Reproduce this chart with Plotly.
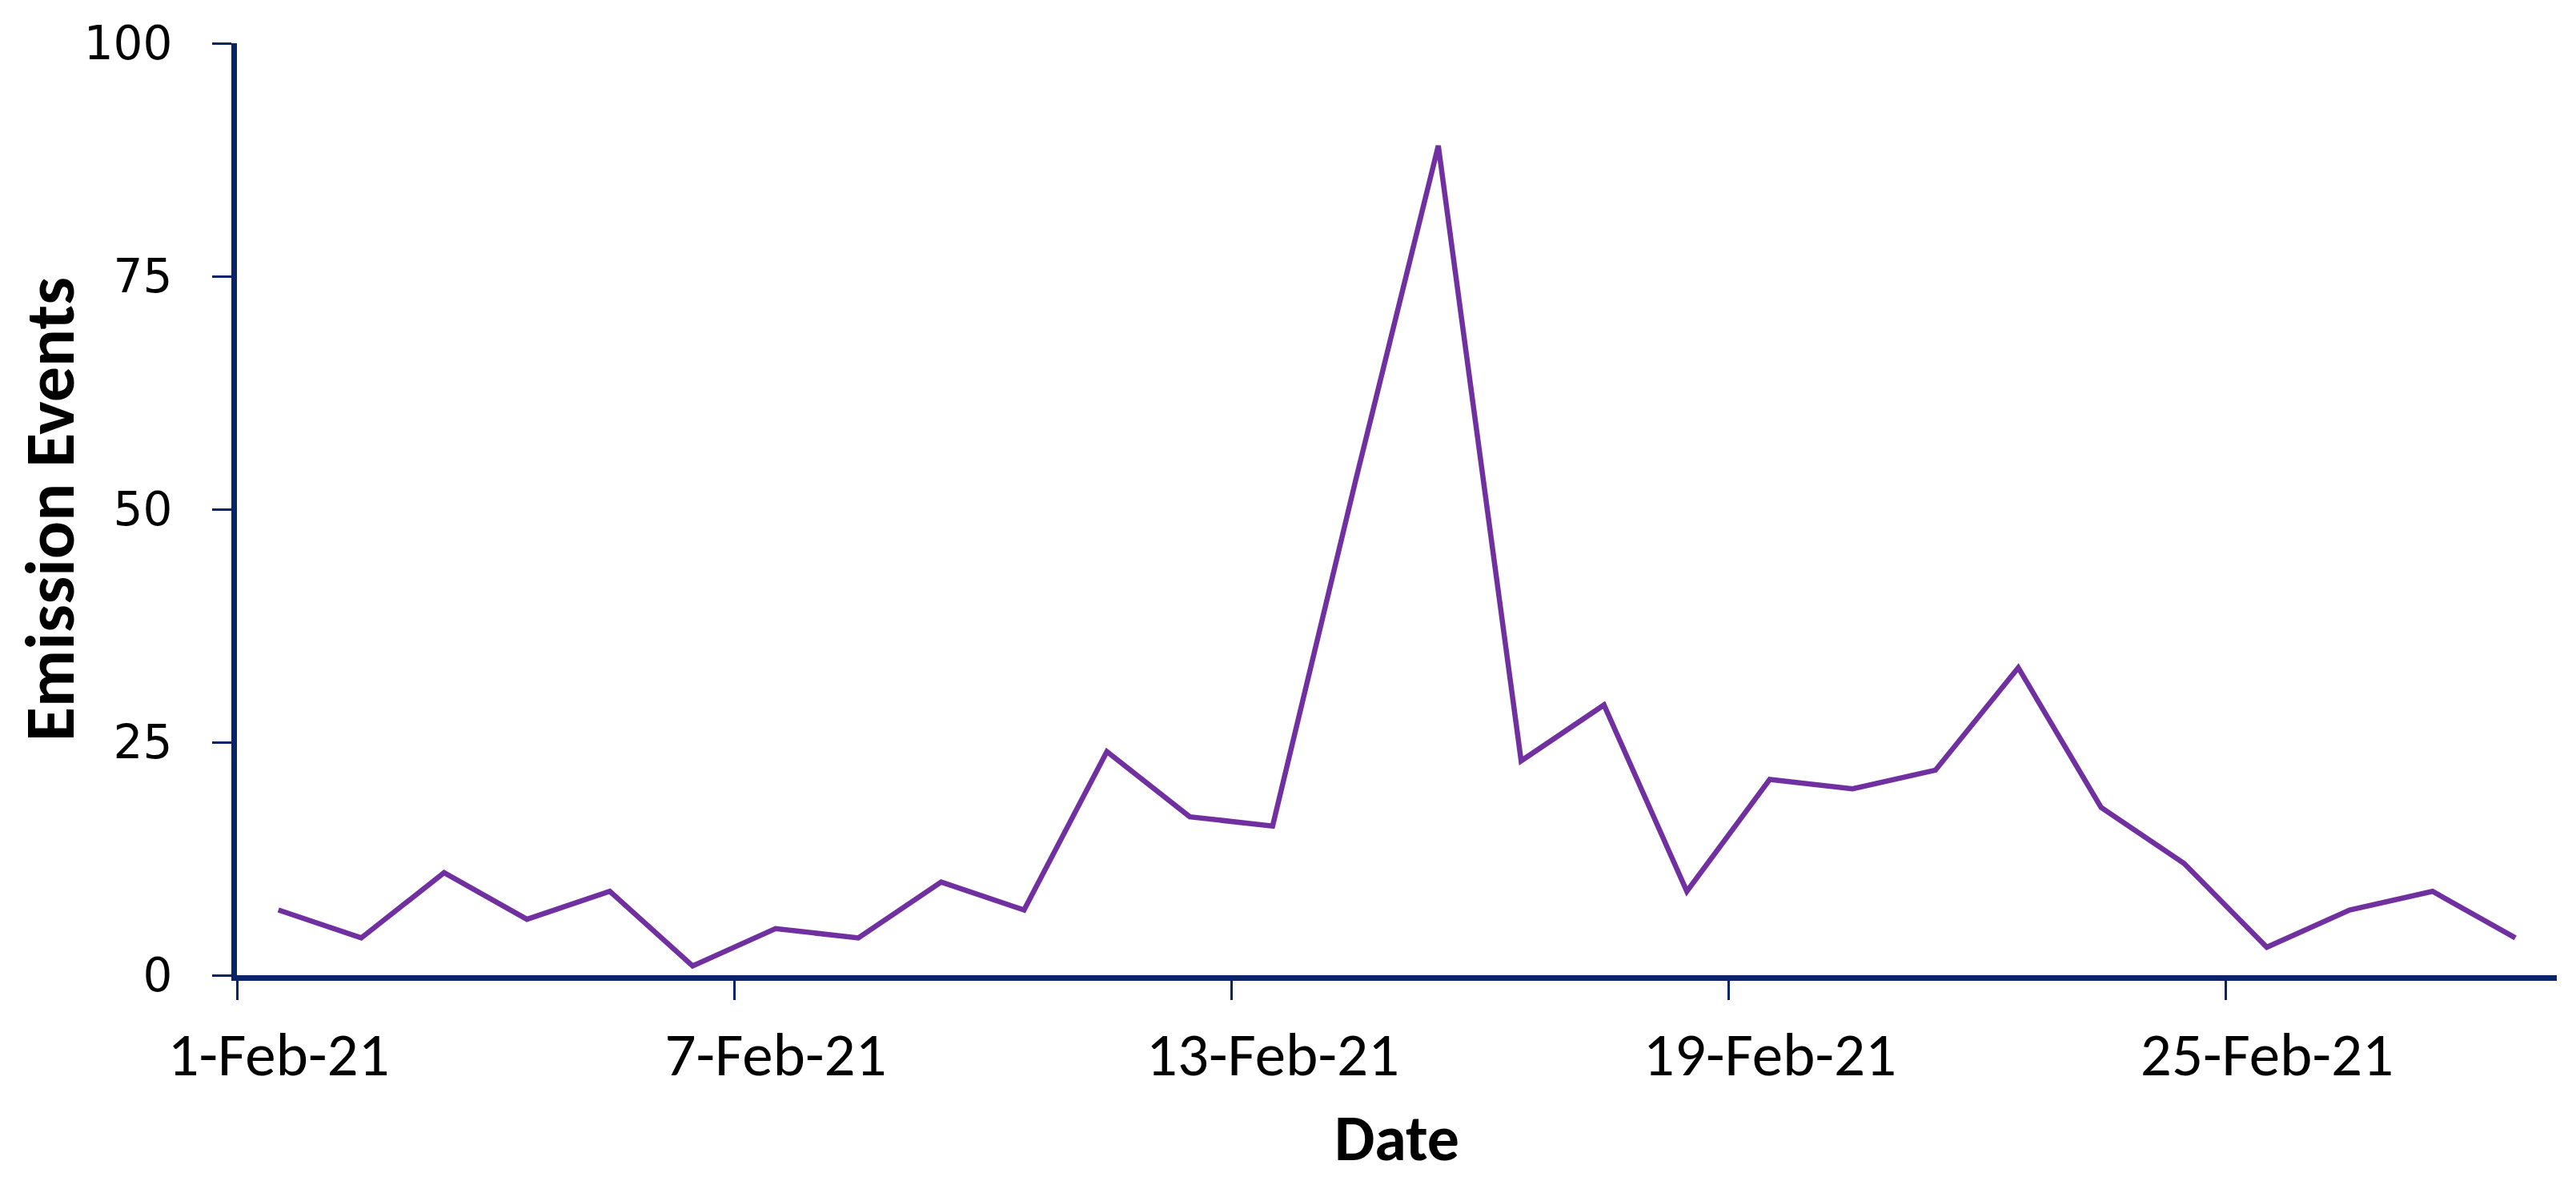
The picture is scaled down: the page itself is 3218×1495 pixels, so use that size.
import pandas as pd
import plotly.graph_objects as go

dates = pd.date_range("2021-02-01", "2021-02-28", freq="D")
events = [7, 4, 11, 6, 9, 1, 5, 4, 10, 7, 24, 17, 16, 53, 89, 23, 29, 9, 21, 20, 22, 33, 18, 12, 3, 7, 9, 4]
tick_dates = ["2021-02-01", "2021-02-07", "2021-02-13", "2021-02-19", "2021-02-25"]
tick_labels = ["1-Feb-21", "7-Feb-21", "13-Feb-21", "19-Feb-21", "25-Feb-21"]
y_ticks = [0, 25, 50, 75, 100]

# points plotted in the middle of each day (Excel "between tick marks")
x_mid = dates + pd.Timedelta(hours=12)

axis_color = "#0a2468"
calib = "Carlito, Calibri, Lato, Liberation Sans, sans-serif"

W, H = 3218, 1495
ML, MR, MT, MB = 288, 32, 42, 285
n_days = 28
half_day_px = int(round((W - ML - MR) / n_days / 2))

fig = go.Figure(go.Scatter(
    x=x_mid, y=events, mode="lines",
    line=dict(color="#7030A0", width=6.5),
    hoverinfo="x+y",
))

fig.update_layout(
    width=W, height=H,
    paper_bgcolor="white", plot_bgcolor="white",
    margin=dict(l=ML, r=MR, t=MT, b=MB),
    showlegend=False,
)

fig.update_xaxes(
    type="date",
    range=["2021-02-01", "2021-03-01"],
    tickvals=tick_dates, ticktext=tick_labels,
    ticks="outside", ticklen=24, tickwidth=3, tickcolor=axis_color,
    showline=True, linecolor=axis_color, linewidth=7,
    showgrid=False, zeroline=False,
    tickfont=dict(family=calib, size=77, color="black"),
    ticklabelstandoff=2,
    ticklabelshift=half_day_px,
    title=dict(text="<b>Date</b>", font=dict(family=calib, size=80, color="black"), standoff=32),
)

fig.update_yaxes(
    range=[0, 100],
    tickvals=y_ticks,
    ticks="outside", ticklen=24, tickwidth=3, tickcolor=axis_color,
    showline=True, linecolor=axis_color, linewidth=7,
    showgrid=False, zeroline=False,
    tickfont=dict(family="DejaVu Sans, Verdana, sans-serif", size=58, color="black"),
    ticklabelstandoff=38,
    title=dict(text="<b>Emission Events</b>", font=dict(family=calib, size=88, color="black"), standoff=14),
)

fig.write_html("out.html")
